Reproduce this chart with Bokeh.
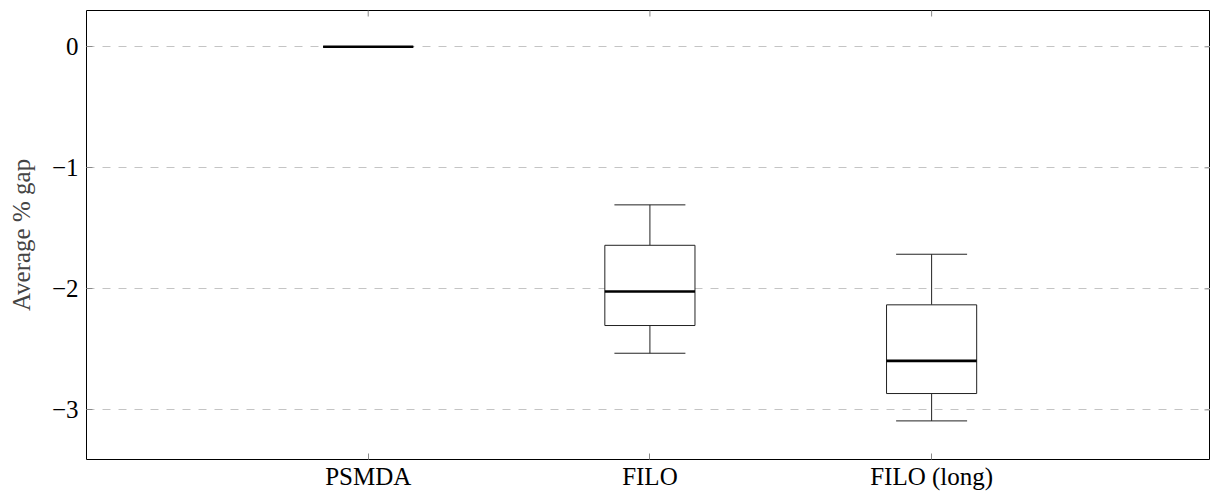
import math
from bokeh.plotting import figure
from bokeh.models import Range1d, FixedTicker
from bokeh.embed import file_html
from bokeh.resources import INLINE

categories = ["PSMDA", "FILO", "FILO (long)"]
whisker_low = [0.0, -2.532, -3.091]
q1 = [0.0, -2.303, -2.865]
median = [0.0, -2.022, -2.595]
q3 = [0.0, -1.640, -2.132]
whisker_high = [0.0, -1.306, -1.714]
y_ticks = [-3, -2, -1, 0]
y_tick_labels = ["\u22123", "\u22122", "\u22121", "0"]

xs = [i + 1 for i in range(len(categories))]
box_w = 0.32
cap_w = 0.252

FONT = "Liberation Serif"
TICK_COLOR = "#8a8a8a"

x_range = Range1d(0, 3.99)
y_range = Range1d(-3.41, 0.3)

p = figure(frame_width=1124, frame_height=449,
           x_range=x_range, y_range=y_range,
           output_backend="svg", toolbar_location=None,
           min_border_left=86, min_border_top=10, min_border_right=0, min_border_bottom=30)

p.outline_line_color = "black"
p.outline_line_width = 1
p.outline_line_alpha = 1.0

# grid
p.xgrid.visible = False
p.ygrid.ticker = FixedTicker(ticks=y_ticks)
p.ygrid.grid_line_color = "#c4c4c4"
p.ygrid.grid_line_dash = "8 8"
p.ygrid.grid_line_width = 1


def style_axis(ax, ticks, labels):
    ax.ticker = FixedTicker(ticks=ticks)
    ax.axis_line_color = None
    ax.major_tick_in = 6
    ax.major_tick_out = 0
    ax.minor_tick_line_color = None
    ax.major_tick_line_color = TICK_COLOR
    ax.major_label_text_font = FONT
    ax.major_label_text_color = "black"
    ax.major_label_text_font_size = "25px"
    ax.major_label_overrides = {t: l for t, l in zip(ticks, labels)}


style_axis(p.xaxis[0], xs, categories)
p.xaxis[0].major_label_standoff = 3
style_axis(p.yaxis[0], y_ticks, y_tick_labels)
p.yaxis[0].major_label_standoff = 8
p.yaxis[0].axis_label = "Average % gap"
p.yaxis[0].axis_label_text_font = FONT
p.yaxis[0].axis_label_text_font_style = "normal"
p.yaxis[0].axis_label_text_font_size = "25px"
p.yaxis[0].axis_label_standoff = 14

# mirrored tick marks on the top and right edges (clipped to the frame)
p.scatter(x=xs, y=[y_range.end] * len(xs), marker="dash", angle=math.pi / 2, size=12,
          line_color=TICK_COLOR, line_width=1)
p.scatter(x=[x_range.end] * len(y_ticks), y=y_ticks, marker="dash", size=12,
          line_color=TICK_COLOR, line_width=1)

# whiskers
p.segment(x0=xs, y0=q3, x1=xs, y1=whisker_high, line_color="#222222", line_width=1)
p.segment(x0=xs, y0=q1, x1=xs, y1=whisker_low, line_color="#222222", line_width=1)
p.segment(x0=[x - cap_w / 2 for x in xs], y0=whisker_high, x1=[x + cap_w / 2 for x in xs], y1=whisker_high,
          line_color="#222222", line_width=1)
p.segment(x0=[x - cap_w / 2 for x in xs], y0=whisker_low, x1=[x + cap_w / 2 for x in xs], y1=whisker_low,
          line_color="#222222", line_width=1)
# boxes
p.vbar(x=xs, width=box_w, top=q3, bottom=q1, fill_color="white", line_color="#222222", line_width=1)
# medians
p.segment(x0=[x - box_w / 2 for x in xs], y0=median, x1=[x + box_w / 2 for x in xs], y1=median,
          line_color="black", line_width=2.6)

open("out.html", "w").write(file_html(p, INLINE))
